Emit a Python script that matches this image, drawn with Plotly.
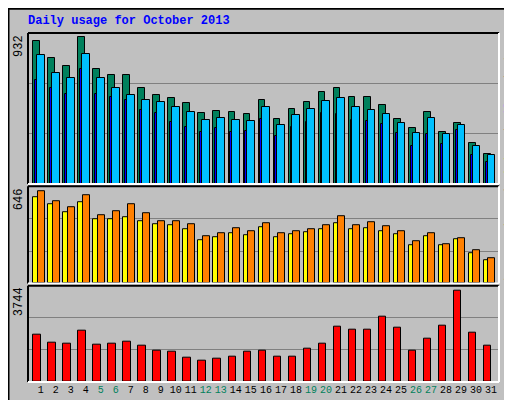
import plotly.graph_objects as go
from plotly.subplots import make_subplots

# === data ===
days = list(range(1, 32))
weekend_days = [5, 6, 12, 13, 19, 20, 26, 27]

hits = [907, 799, 748, 932, 729, 691, 691, 608, 564, 544, 513, 449, 462, 455, 443, 534,
        411, 476, 519, 583, 608, 551, 551, 500, 411, 356, 455, 328, 386, 259, 189]
files = [818, 703, 672, 824, 672, 608, 564, 532, 519, 487, 455, 405, 417, 405, 398, 487,
         373, 436, 475, 525, 544, 487, 468, 443, 386, 322, 417, 316, 373, 240, 182]
pages = [659, 608, 570, 729, 570, 551, 532, 468, 449, 392, 360, 328, 354, 328, 335, 411,
         303, 360, 392, 449, 443, 405, 398, 379, 322, 240, 316, 252, 341, 182, 138]
visits = [646, 575, 533, 618, 477, 505, 554, 491, 441, 441, 413, 329, 350, 385, 364, 420,
          350, 364, 378, 406, 470, 406, 434, 399, 364, 294, 350, 279, 315, 237, 181]
sites = [603, 554, 498, 568, 455, 455, 463, 441, 413, 406, 378, 301, 322, 350, 336, 392,
         322, 343, 357, 378, 427, 378, 385, 364, 343, 272, 329, 272, 308, 216, 167]
kbytes = [1940, 1612, 1571, 2104, 1530, 1571, 1653, 1489, 1284, 1243, 997, 874, 956, 1038, 1243, 1284,
          1038, 1038, 1366, 1571, 2268, 2145, 2145, 2677, 2227, 1284, 1776, 2309, 3744, 2022, 1489]

BG = "#C0C0C0"
FONT = "Liberation Mono"
PW, PH = 471, 351  # plot area in px

fig = make_subplots(rows=3, cols=1, shared_xaxes=True, vertical_spacing=0.0)
fig.update_layout(
    yaxis=dict(domain=[0.567, 1.0]),
    yaxis2=dict(domain=[0.282, 0.561]),
    yaxis3=dict(domain=[0.0, 0.276]),
)

def bar(y, color, off, w, row):
    fig.add_trace(go.Bar(x=days, y=y, marker=dict(color=color, line=dict(color="black", width=1)),
                         offset=off, width=w, showlegend=False), row=row, col=1)

bar(hits, "#00805C", -0.49, 0.46, 1)
bar(pages, "#0000FF", -0.36, 0.14, 1)
bar(files, "#00C0FF", -0.23, 0.5, 1)
bar(sites, "#FFFF00", -0.49, 0.49, 2)
bar(visits, "#FF8000", -0.2, 0.47, 2)
bar(kbytes, "#FF0000", -0.49, 0.49, 3)

ymax = [960, 683, 3961]
tops = [max(hits), max(visits), max(kbytes)]
for i in range(3):
    r = i + 1
    fig.update_yaxes(range=[0, ymax[i]], tickvals=[ymax[i] / 3, 2 * ymax[i] / 3],
                     showticklabels=False, gridcolor="#808080", gridwidth=1,
                     zeroline=False, row=r, col=1)
    fig.update_xaxes(range=[0.153, 31.53], showgrid=False, zeroline=False, row=r, col=1)
    yref = "y" if r == 1 else f"y{r}"
    # the max value, rotated, left of each panel
    fig.add_annotation(x=-9 / PW, xref="paper", y=1, yref=f"{yref} domain", text=str(tops[i]),
                       textangle=-90, showarrow=False, xanchor="center", yanchor="top",
                       font=dict(family=FONT, size=12, color="black"))
    # inset border: black top/left, white bottom/right
    xd = "x domain" if r == 1 else f"x{r} domain"
    yd = f"{yref} domain"
    for x0, y0, x1, y1, c in [(0, 1, 1, 1, "black"), (0, 0, 0, 1, "black"),
                              (0, 0, 1, 0, "white"), (1, 0, 1, 1, "white")]:
        fig.add_shape(type="line", xref=xd, yref=yd, x0=x0, y0=y0, x1=x1, y1=y1,
                      line=dict(color=c, width=2))

ticktext = [f"<span style='color:#00805C'>{d}</span>" if d in weekend_days else str(d) for d in days]
fig.update_xaxes(tickvals=days, ticktext=ticktext, showticklabels=True, ticks="", tickangle=0,
                 tickfont=dict(family=FONT, size=10, color="black"), row=3, col=1)

def span(t, c):
    return f"<span style='color:{c}'>{t}</span>"

right_labels = [
    ("y", 0.05, span("Pages", "#00C0FF") + " / " + span("Files", "#0000FF") + " / " + span("Hits", "#00805C")),
    ("y2", 0.0, span("kB Out", "#00805C") + " " + span("Sites", "#FF8000") + " / " + span("Visits", "#FFFF00")),
    ("y3", 0.0, span("kB F", "#FF0000") + " / " + span("kB In", "#0000FF") + " / "),
]
for yref, y0, txt in right_labels:
    fig.add_annotation(x=1 + 10 / PW, xref="paper", y=y0, yref=f"{yref} domain",
                       text=txt, textangle=-90, showarrow=False, xanchor="center", yanchor="bottom",
                       font=dict(family=FONT, size=11, color="black"))

fig.add_annotation(x=-0.005, xref="paper", y=1.0, yref="paper", yshift=21, text="<b>Daily usage for October 2013</b>",
                   showarrow=False, xanchor="left", yanchor="top",
                   font=dict(family=FONT, size=12, color="#0000FF"))

# outer frame of the image
fig.add_shape(type="rect", xref="paper", yref="paper", x0=-19.5 / PW, x1=1 + 20.5 / PW,
              y0=-23.5 / PH, y1=1 + 24.5 / PH, line=dict(color="black", width=2))

fig.update_layout(
    width=512, height=400, barmode="overlay", bargap=0,
    paper_bgcolor=BG, plot_bgcolor=BG,
    margin=dict(l=20, r=21, t=25, b=24),
    font=dict(family=FONT),
)
fig.write_html("out.html")
